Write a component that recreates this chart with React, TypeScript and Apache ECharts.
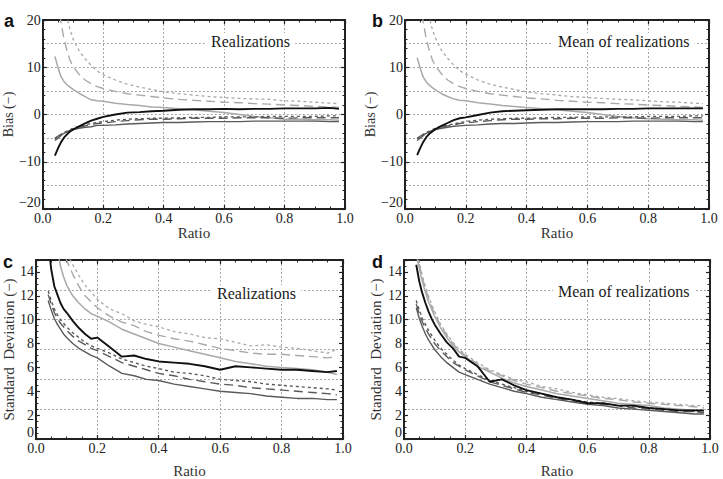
import React, { useEffect, useRef } from "react";
import * as echarts from "echarts";

// Shared abscissa (ratio) for every curve
const RATIO = [0.04, 0.05, 0.06, 0.07, 0.08, 0.09, 0.1, 0.12, 0.14, 0.16, 0.18, 0.2, 0.24, 0.28, 0.32, 0.36, 0.4, 0.45, 0.5, 0.55, 0.6, 0.65, 0.7, 0.75, 0.8, 0.85, 0.9, 0.95, 0.98];

// Panel a: bias, realizations
const biasRealLightShort = [40, 32, 27, 23, 20.5, 18, 16, 13.5, 11.8, 10.4, 9.2, 8.4, 7.3, 6.4, 5.8, 5.3, 4.8, 4.4, 4.1, 3.8, 3.6, 3.4, 3.3, 3.2, 2.9, 2.8, 2.6, 2.4, 2.3];
const biasRealLightLong = [30, 24, 19.5, 16, 13.5, 11.5, 10.2, 8.5, 7.3, 6.5, 5.9, 5.5, 4.9, 4.4, 4.1, 3.8, 3.5, 3.2, 3.0, 2.8, 2.6, 2.5, 2.3, 2.2, 2.0, 1.9, 1.7, 1.6, 1.5];
const biasRealLightSolid = [12.3, 10, 8, 7, 6.3, 5.8, 5.3, 4.5, 3.8, 3.1, 2.9, 2.8, 2.4, 2.1, 1.9, 1.6, 1.5, 1.2, 1.0, 0.7, 0.4, 0.0, -0.4, -0.7, -1.0, -1.0, -1.1, -1.1, -1.2];
const biasRealBlack = [-8.7, -7.2, -5.9, -4.9, -4.2, -3.6, -3.2, -2.5, -1.9, -1.3, -0.9, -0.5, 0.0, 0.4, 0.5, 0.7, 0.8, 1.0, 1.1, 1.1, 1.2, 1.1, 1.2, 1.2, 1.3, 1.3, 1.3, 1.4, 1.2];
const biasRealDarkSolid = [-5.0, -4.6, -4.3, -4.0, -3.7, -3.4, -3.2, -2.9, -2.7, -2.6, -2.3, -2.3, -2.2, -2.0, -1.9, -1.8, -1.7, -1.7, -1.6, -1.5, -1.5, -1.5, -1.4, -1.4, -1.4, -1.4, -1.4, -1.5, -1.5];
const biasRealDarkShort = [-5.2, -4.7, -4.2, -3.8, -3.5, -3.2, -2.9, -2.5, -2.2, -1.9, -1.7, -1.5, -1.2, -1.0, -0.9, -0.8, -0.8, -0.7, -0.6, -0.6, -0.5, -0.5, -0.5, -0.4, -0.4, -0.4, -0.4, -0.3, -0.3];
const biasRealDarkLong = [-5.5, -5.0, -4.5, -4.1, -3.7, -3.4, -3.1, -2.7, -2.4, -2.1, -1.9, -1.8, -1.5, -1.3, -1.1, -1.0, -1.0, -0.9, -0.8, -0.8, -0.8, -0.7, -0.7, -0.7, -0.8, -0.7, -0.7, -0.7, -0.7];

// Panel b: bias, mean of realizations
const biasMeanLightShort = [40, 32, 27, 23, 20.5, 18, 16.2, 13.6, 11.9, 10.5, 9.3, 8.5, 7.3, 6.4, 5.8, 5.3, 4.8, 4.4, 4.1, 3.8, 3.6, 3.4, 3.2, 3.1, 2.9, 2.7, 2.6, 2.4, 2.3];
const biasMeanLightLong = [30, 24, 19.5, 16, 13.5, 11.6, 10.3, 8.6, 7.3, 6.5, 5.9, 5.5, 4.9, 4.4, 4.1, 3.8, 3.5, 3.3, 3.0, 2.8, 2.6, 2.5, 2.3, 2.2, 2.0, 1.9, 1.7, 1.6, 1.5];
const biasMeanLightSolid = [12.0, 9.8, 7.9, 6.9, 6.2, 5.7, 5.2, 4.4, 3.8, 3.3, 3.0, 2.9, 2.5, 2.2, 1.9, 1.7, 1.5, 1.2, 1.0, 0.7, 0.4, 0.0, -0.4, -0.7, -0.9, -1.0, -1.1, -1.1, -1.2];
const biasMeanBlack = [-8.6, -7.1, -5.8, -4.8, -4.1, -3.6, -3.1, -2.4, -1.8, -1.2, -0.8, -0.6, -0.1, 0.4, 0.7, 0.8, 0.9, 1.0, 1.1, 1.1, 1.1, 1.1, 1.2, 1.2, 1.3, 1.3, 1.3, 1.3, 1.3];
const biasMeanDarkSolid = [-5.0, -4.6, -4.3, -4.0, -3.7, -3.4, -3.2, -2.9, -2.7, -2.5, -2.4, -2.3, -2.2, -2.0, -1.9, -1.9, -1.8, -1.7, -1.7, -1.6, -1.5, -1.5, -1.5, -1.4, -1.4, -1.4, -1.4, -1.5, -1.5];
const biasMeanDarkShort = [-5.2, -4.7, -4.2, -3.8, -3.5, -3.2, -2.9, -2.5, -2.2, -2.0, -1.7, -1.5, -1.2, -1.0, -0.9, -0.8, -0.8, -0.7, -0.6, -0.6, -0.5, -0.5, -0.5, -0.5, -0.4, -0.4, -0.4, -0.3, -0.3];
const biasMeanDarkLong = [-5.5, -5.0, -4.5, -4.1, -3.7, -3.4, -3.1, -2.7, -2.4, -2.2, -1.9, -1.8, -1.5, -1.3, -1.1, -1.0, -1.0, -0.9, -0.9, -0.8, -0.8, -0.8, -0.7, -0.7, -0.8, -0.7, -0.7, -0.7, -0.7];

// Panel c: standard deviation, realizations
const sdRealLightShort = [30, 25, 22, 20, 18, 16.7, 15.6, 14.6, 13.7, 12.9, 12.3, 11.7, 10.9, 10.5, 9.9, 9.6, 9.4, 9.0, 8.8, 8.5, 8.4, 8.1, 7.8, 7.9, 7.7, 7.6, 7.4, 7.2, 7.5];
const sdRealLightLong = [28, 24, 21, 19, 17, 15.8, 15.0, 13.8, 12.8, 12.0, 11.5, 11.0, 10.3, 9.8, 9.5, 9.0, 8.7, 8.4, 8.2, 7.9, 7.6, 7.4, 7.2, 7.1, 7.1, 7.0, 6.9, 6.8, 6.9];
const sdRealLightSolid = [24, 20, 18, 15.8, 14.5, 13.6, 12.9, 12.0, 11.4, 10.9, 10.5, 10.3, 9.8, 9.2, 8.8, 8.4, 8.0, 7.7, 7.4, 7.1, 6.8, 6.5, 6.3, 6.1, 6.0, 5.9, 5.8, 5.6, 5.4];
const sdRealBlack = [16.5, 14.2, 12.8, 12.1, 11.4, 10.9, 10.6, 9.9, 9.3, 8.8, 8.4, 8.5, 7.7, 6.9, 7.0, 6.7, 6.5, 6.4, 6.3, 6.1, 5.8, 6.1, 6.0, 5.9, 5.8, 5.8, 5.7, 5.6, 5.7];
const sdRealDarkSolid = [11.6, 10.8, 10.1, 9.6, 9.2, 8.8, 8.5, 8.0, 7.6, 7.3, 7.0, 6.8, 6.1, 5.5, 5.3, 5.0, 4.9, 4.6, 4.4, 4.2, 4.0, 3.9, 3.8, 3.6, 3.5, 3.4, 3.4, 3.3, 3.3];
const sdRealDarkShort = [12.4, 11.6, 10.9, 10.4, 10.0, 9.7, 9.4, 8.9, 8.5, 8.1, 7.8, 7.6, 7.2, 6.7, 6.4, 6.1, 5.9, 5.6, 5.5, 5.3, 5.0, 4.9, 4.8, 4.6, 4.5, 4.4, 4.3, 4.2, 4.1];
const sdRealDarkLong = [12.1, 11.3, 10.6, 10.1, 9.7, 9.4, 9.1, 8.6, 8.2, 7.9, 7.6, 7.4, 6.9, 6.4, 6.1, 5.8, 5.5, 5.3, 5.0, 4.8, 4.6, 4.5, 4.3, 4.2, 4.1, 4.0, 3.9, 3.8, 3.7];

// Panel d: standard deviation, mean of realizations
const sdMeanLightShort = [16, 14.8, 13.7, 12.8, 12.0, 11.3, 10.7, 9.6, 8.8, 8.1, 7.5, 7.1, 6.4, 5.8, 5.4, 5.0, 4.8, 4.4, 4.2, 3.9, 3.7, 3.5, 3.4, 3.2, 3.1, 3.0, 2.9, 2.8, 2.8];
const sdMeanLightLong = [15.8, 14.6, 13.5, 12.6, 11.8, 11.1, 10.5, 9.5, 8.7, 8.0, 7.4, 7.0, 6.3, 5.7, 5.3, 4.9, 4.6, 4.3, 4.0, 3.8, 3.6, 3.4, 3.3, 3.1, 3.0, 2.9, 2.8, 2.7, 2.6];
const sdMeanLightSolid = [15.5, 14.3, 13.2, 12.3, 11.5, 10.9, 10.3, 9.3, 8.5, 7.8, 7.3, 6.9, 6.1, 5.6, 5.1, 4.7, 4.4, 4.1, 3.8, 3.6, 3.4, 3.2, 3.0, 2.9, 2.8, 2.6, 2.5, 2.4, 2.3];
const sdMeanBlack = [14.6, 13.2, 12.2, 11.4, 10.7, 10.1, 9.6, 8.8, 8.1, 7.6, 6.9, 6.8, 6.1, 4.8, 5.0, 4.5, 4.1, 3.8, 3.5, 3.3, 3.0, 3.0, 2.8, 2.8, 2.6, 2.5, 2.4, 2.4, 2.4];
const sdMeanDarkSolid = [11.0, 10.1, 9.4, 8.8, 8.3, 7.9, 7.5, 6.9, 6.4, 6.0, 5.6, 5.4, 5.0, 4.6, 4.3, 4.0, 3.8, 3.5, 3.3, 3.1, 2.9, 2.8, 2.6, 2.5, 2.4, 2.3, 2.2, 2.1, 2.1];
const sdMeanDarkShort = [11.6, 10.8, 10.1, 9.6, 9.1, 8.7, 8.3, 7.6, 7.1, 6.6, 6.2, 5.9, 5.4, 4.9, 4.6, 4.3, 4.0, 3.8, 3.5, 3.3, 3.1, 3.0, 2.8, 2.7, 2.6, 2.5, 2.4, 2.3, 2.3];
const sdMeanDarkLong = [11.3, 10.5, 9.8, 9.3, 8.8, 8.4, 8.0, 7.4, 6.9, 6.4, 6.1, 5.8, 5.3, 4.8, 4.5, 4.2, 3.9, 3.7, 3.4, 3.2, 3.0, 2.9, 2.8, 2.6, 2.5, 2.4, 2.3, 2.3, 2.2];

const SERIF = "'Liberation Serif', 'DejaVu Serif', serif";
const SANS = "'Liberation Sans', Arial, sans-serif";
const LIGHT = "#a9a9a9";
const DARK = "#5a5a5a";
const BLACK = "#111111";
const FRAME = "#222222";

type Curve = { values: number[]; color: string; dash: number[] | "solid"; width: number };

const curveSet = (
  lightShort: number[], lightLong: number[], lightSolid: number[],
  black: number[], darkSolid: number[], darkShort: number[], darkLong: number[]
): Curve[] => [
  { values: lightShort, color: LIGHT, dash: [3, 3], width: 1.3 },
  { values: lightLong, color: LIGHT, dash: [9, 5], width: 1.4 },
  { values: lightSolid, color: LIGHT, dash: "solid", width: 1.5 },
  { values: darkShort, color: DARK, dash: [3, 3], width: 1.4 },
  { values: darkLong, color: DARK, dash: [9, 5], width: 1.4 },
  { values: darkSolid, color: DARK, dash: "solid", width: 1.4 },
  { values: black, color: BLACK, dash: "solid", width: 1.9 },
];

type Panel = {
  letter: string; letterX: number; letterY: number;
  left: number; top: number; width: number; height: number;
  yMin: number; yMax: number; labelInterval: number; gridInterval: number; minorSplit: number;
  yName: string; yNameGap: number; yNameSize: number; xNameGap: number;
  title: string; titleX: number; titleY: number;
  curves: Curve[];
};

const PANELS: Panel[] = [
  {
    letter: "a", letterX: 4, letterY: 12, left: 38, top: 20, width: 307, height: 189,
    yMin: -20, yMax: 20, labelInterval: 10, gridInterval: 5, minorSplit: 5,
    yName: "Bias (\u2212)", yNameGap: 22, yNameSize: 14, xNameGap: 10,
    title: "Realizations", titleX: 206, titleY: 33,
    curves: curveSet(biasRealLightShort, biasRealLightLong, biasRealLightSolid, biasRealBlack, biasRealDarkSolid, biasRealDarkShort, biasRealDarkLong),
  },
  {
    letter: "b", letterX: 372, letterY: 12, left: 405, top: 20, width: 304, height: 189,
    yMin: -20, yMax: 20, labelInterval: 10, gridInterval: 5, minorSplit: 5,
    yName: "Bias (\u2212)", yNameGap: 20, yNameSize: 14, xNameGap: 10,
    title: "Mean of realizations", titleX: 553, titleY: 33,
    curves: curveSet(biasMeanLightShort, biasMeanLightLong, biasMeanLightSolid, biasMeanBlack, biasMeanDarkSolid, biasMeanDarkShort, biasMeanDarkLong),
  },
  {
    letter: "c", letterX: 3, letterY: 253, left: 35, top: 260, width: 308, height: 192,
    yMin: 0, yMax: 15, labelInterval: 2, gridInterval: 2.5, minorSplit: 4,
    yName: "Standard  Deviation (\u2212)", yNameGap: 17, yNameSize: 15, xNameGap: 24,
    title: "Realizations", titleX: 212, titleY: 285,
    curves: curveSet(sdRealLightShort, sdRealLightLong, sdRealLightSolid, sdRealBlack, sdRealDarkSolid, sdRealDarkShort, sdRealDarkLong),
  },
  {
    letter: "d", letterX: 372, letterY: 253, left: 404, top: 260, width: 306, height: 192,
    yMin: 0, yMax: 15, labelInterval: 2, gridInterval: 2.5, minorSplit: 4,
    yName: "Standard  Deviation (\u2212)", yNameGap: 21, yNameSize: 15, xNameGap: 24,
    title: "Mean of realizations", titleX: 553, titleY: 283,
    curves: curveSet(sdMeanLightShort, sdMeanLightLong, sdMeanLightSolid, sdMeanBlack, sdMeanDarkSolid, sdMeanDarkShort, sdMeanDarkLong),
  },
];

const frameLine = { show: true, onZero: false, lineStyle: { color: FRAME, width: 2 } };
const majorTick = { show: true, inside: true, length: 4, lineStyle: { color: FRAME, width: 1.2 } };
const tickFont = { fontFamily: SERIF, fontSize: 14, color: "#222" };
const gridDash = { show: true, lineStyle: { color: "#a6a6a6", type: [2, 2] as number[], width: 1 } };

const fmtY = (v: number) => (v < 0 ? "\u2212" + Math.abs(v) : String(v));

function buildOption() {
  const grid: any[] = [];
  const xAxis: any[] = [];
  const yAxis: any[] = [];
  const series: any[] = [];
  const title: any[] = [];
  const graphic: any[] = [];

  PANELS.forEach((p, g) => {
    grid.push({ left: p.left, top: p.top, width: p.width, height: p.height, containLabel: false });

    xAxis.push({
      gridIndex: g, type: "value", min: 0, max: 1, interval: 0.2, position: "bottom",
      axisLine: frameLine, axisTick: majorTick,
      minorTick: { show: true, splitNumber: 4, length: 2.5, lineStyle: { color: FRAME } },
      axisLabel: { ...tickFont, margin: 2, formatter: (v: number) => v.toFixed(1) },
      splitLine: gridDash,
      name: "Ratio", nameLocation: "middle", nameGap: p.xNameGap,
      nameTextStyle: { fontFamily: SERIF, fontSize: 15, color: "#333" },
    });
    xAxis.push({
      gridIndex: g, type: "value", min: 0, max: 1, interval: 0.2, position: "top",
      axisLine: frameLine, axisTick: majorTick,
      minorTick: { show: true, splitNumber: 4, length: 2.5, lineStyle: { color: FRAME } },
      axisLabel: { show: false }, splitLine: { show: false },
    });

    const labelFmt = (v: number) => (Math.abs(v % p.labelInterval) > 1e-9 ? "" : fmtY(v));
    yAxis.push({
      gridIndex: g, type: "value", min: p.yMin, max: p.yMax, interval: p.labelInterval, position: "left",
      axisLine: frameLine, axisTick: majorTick,
      minorTick: { show: true, splitNumber: p.minorSplit, length: 2.5, lineStyle: { color: FRAME } },
      // the lowest label rests on the frame corner, above the "0.0" label
      axisLabel: { ...tickFont, margin: 2, formatter: labelFmt, verticalAlignMinLabel: "bottom" },
      splitLine: { show: false },
      name: p.yName, nameLocation: "middle", nameGap: p.yNameGap,
      nameTextStyle: { fontFamily: SERIF, fontSize: p.yNameSize, color: "#333" },
    });
    yAxis.push({
      gridIndex: g, type: "value", min: p.yMin, max: p.yMax, interval: p.labelInterval, position: "right",
      axisLine: frameLine, axisTick: majorTick,
      minorTick: { show: true, splitNumber: p.minorSplit, length: 2.5, lineStyle: { color: FRAME } },
      axisLabel: { show: false }, splitLine: { show: false },
    });
    yAxis.push({
      gridIndex: g, type: "value", min: p.yMin, max: p.yMax, interval: p.gridInterval, position: "left",
      axisLine: { show: false }, axisTick: { show: false }, axisLabel: { show: false },
      splitLine: gridDash,
    });

    p.curves.forEach((c) => {
      series.push({
        type: "line", xAxisIndex: g * 2, yAxisIndex: g * 3,
        data: RATIO.map((r, i) => [r, c.values[i]]),
        showSymbol: false, symbol: "none", smooth: false, clip: true, z: 3,
        lineStyle: { color: c.color, width: c.width, type: c.dash },
      });
    });

    title.push({
      text: p.title, left: p.titleX, top: p.titleY, padding: [0, 5],
      backgroundColor: "#ffffff",
      textStyle: { fontFamily: SERIF, fontSize: 16, fontWeight: "normal", color: "#1a1a1a" },
    });

    graphic.push({
      type: "text", left: p.letterX, top: p.letterY, z: 10,
      style: { text: p.letter, font: `bold 18px ${SANS}`, fill: "#111" },
    });
  });

  return { animation: false, backgroundColor: "#ffffff", grid, xAxis, yAxis, series, title, graphic };
}

export default function App() {
  const ref = useRef<HTMLDivElement>(null);
  useEffect(() => {
    if (!ref.current) return;
    const chart = echarts.init(ref.current, undefined, { renderer: "svg" });
    chart.setOption(buildOption());
    return () => chart.dispose();
  }, []);
  return (
    <div
      ref={ref}
      style={{ position: "fixed", left: 0, top: 0, width: 723, height: 479, background: "#fff" }}
    />
  );
}
